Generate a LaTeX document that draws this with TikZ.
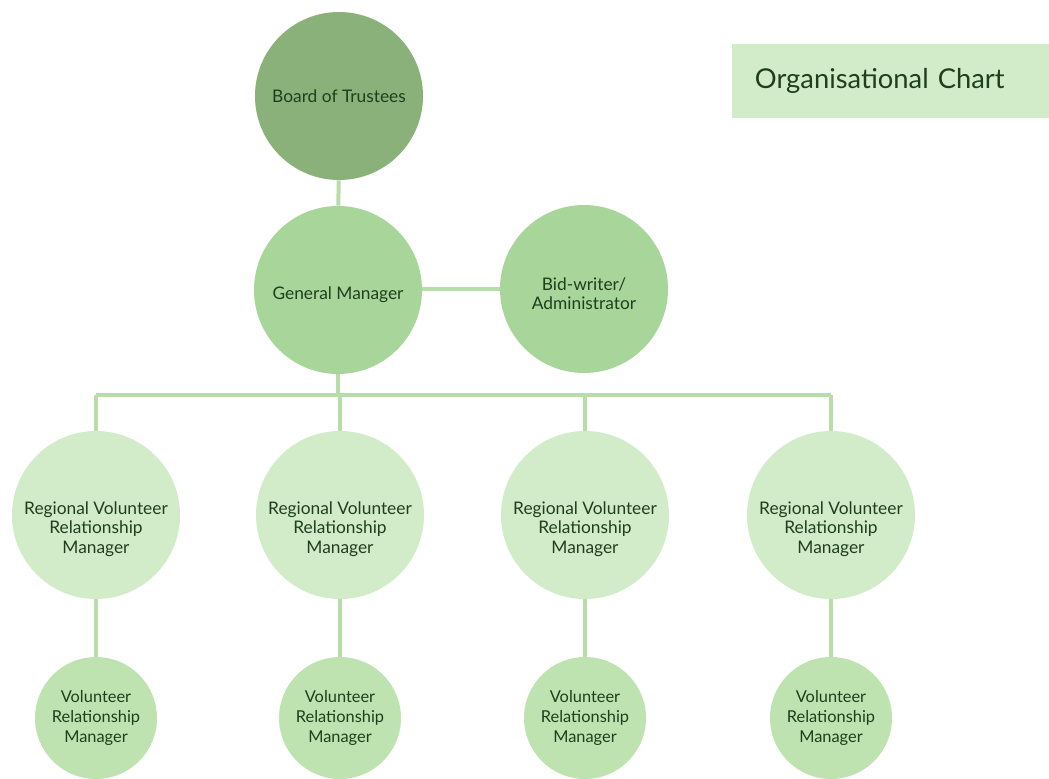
\documentclass[tikz,border=0pt]{standalone}
\usepackage{fontspec}
\setmainfont{Lato}
\definecolor{boardgreen}{HTML}{8AB179}
\definecolor{midgreen}{HTML}{A8D59A}
\definecolor{palegreen}{HTML}{D2ECCA}
\definecolor{volgreen}{HTML}{BFE3B0}
\definecolor{linegreen}{HTML}{B7DDA8}
\definecolor{textgreen}{HTML}{1E3F1E}

\begin{document}
\begin{tikzpicture}[x=0.75pt, y=-0.75pt,
    role/.style={circle, inner sep=0pt, align=center, text=textgreen,
                 font=\fontsize{13}{14.5}\selectfont},
    bigrole/.style={role, minimum size=126pt},
    smallrole/.style={role, minimum size=91.5pt, font=\fontsize{12.3}{15}\selectfont},
    roletext/.style={align=center, text=textgreen, inner sep=0pt,
                     font=\fontsize{13}{14.5}\selectfont},
    link/.style={draw=linegreen, line width=3pt}]
  \useasboundingbox (0,0) rectangle (1049,778);

  \node[rectangle, fill=palegreen, anchor=north west, minimum width=237.75pt,
        minimum height=55.5pt, text width=220pt, inner xsep=17pt, align=left,
        text=textgreen, font=\fontsize{20.5}{24}\selectfont] (title) at (732,44)
        {Organisational Chart};

  \node[bigrole, fill=boardgreen] (board) at (339,96) {Board of Trustees};
  \node[bigrole, fill=midgreen] (gm) at (338,290) {};
  \node[roletext] (gmname) at (338,295) {General Manager};
  \node[bigrole, fill=midgreen] (bid) at (584,289) {};
  \node[roletext] (bidname) at (584,294) {Bid-writer/\\Administrator};

  \coordinate (bar) at (338,395);
  \draw[link] (board) -- (gm);
  \draw[link] (gm.east |- bid.west) -- (bid.west);
  \draw[link] (gm) -- (bar);

  \foreach \x [count=\i] in {96,340,585,831} {
    \node[bigrole, fill=palegreen] (reg\i) at (\x,515) {};
    \node[roletext] (regname\i) at (\x,529)
      {Regional Volunteer\\Relationship\\Manager};
    \node[smallrole, fill=volgreen] (vol\i) at (\x,718)
      {Volunteer\\Relationship\\Manager};
    \draw[link] (reg\i.north |- bar) -- (reg\i);
    \draw[link] (reg\i) -- (vol\i);
  }
  \draw[link] (reg1.north |- bar) -- (reg4.north |- bar);
\end{tikzpicture}
\end{document}
